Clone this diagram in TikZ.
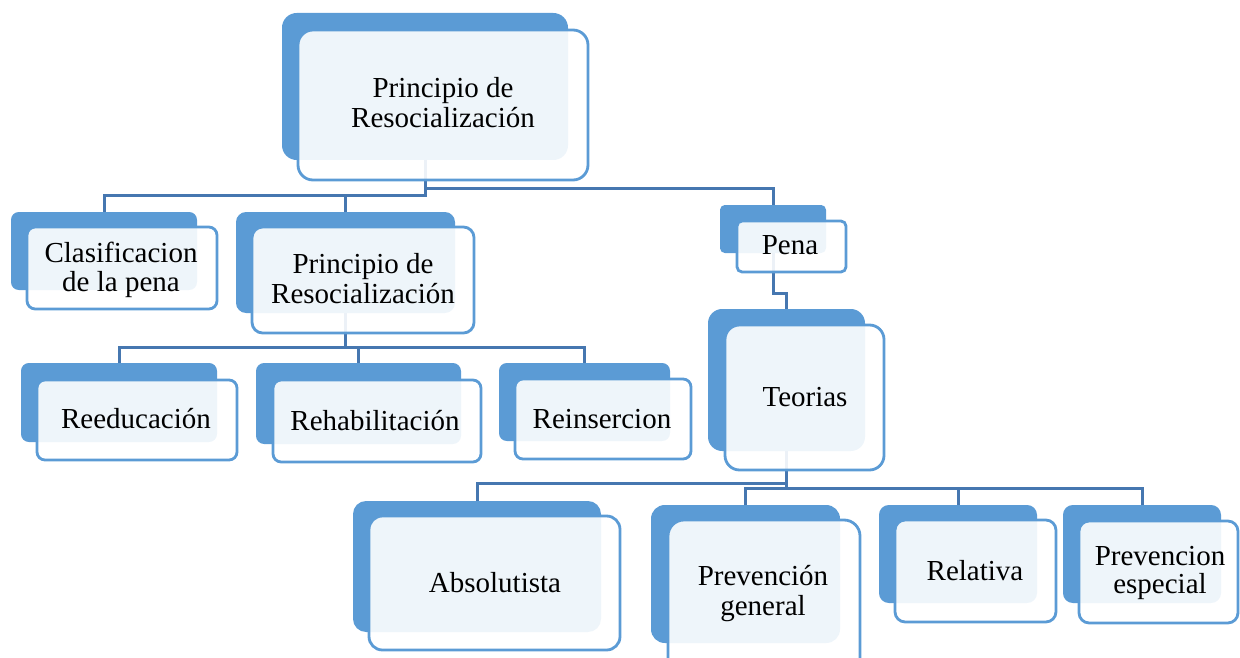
\documentclass[tikz,border=0pt]{standalone}
\usepackage{fontspec}
\setmainfont{Liberation Serif}
\definecolor{backblue}{HTML}{5B9BD5}
\definecolor{frontline}{HTML}{5B9BD5}
\definecolor{linkblue}{HTML}{4677B0}
\newcommand\backbox[5]{%
  \pgfmathsetmacro\rb{0.1*min(#4-#2,#5-#3)}%
  \node[backstyle, rounded corners=\rb pt, anchor=north west,
        minimum width={#4-#2}, minimum height={#5-#3}] (#1) at (#2,#3) {};}
\newcommand\frontbox[5]{%
  \pgfmathsetmacro\rb{0.1*min(#4-#2,#5-#3)}%
  \node[frontstyle, rounded corners=\rb pt, anchor=north west,
        minimum width={#4-#2}, minimum height={#5-#3}] (#1) at (#2,#3) {};}
\begin{document}
\begin{tikzpicture}[x=1pt,y=-1pt,
  backstyle/.style={fill=backblue, draw=none, inner sep=0pt, outer sep=0pt},
  frontstyle/.style={fill=white, fill opacity=0.9, draw=frontline, draw opacity=1,
                     line width=2.8pt, inner sep=0pt, outer sep=0pt},
  link/.style={draw=linkblue, line width=3pt},
  lbl/.style={anchor=base, inner sep=0pt, font=\fontsize{29}{30}\selectfont, text=black}]
\useasboundingbox (0,0) rectangle (1240,658);
\clip (0,0) rectangle (1240,658);
% back boxes
\backbox{topb}{282}{13}{568}{160}
\backbox{clasb}{11}{212}{197}{290}
\backbox{prinb}{236}{212}{455}{313}
\backbox{reedb}{21}{363}{217}{442}
\backbox{rehab}{256}{363}{461}{444}
\backbox{reinb}{499}{363}{670}{441}
\backbox{penab}{720}{205}{826}{253}
\backbox{teorb}{708}{309}{865}{451}
\backbox{absob}{353}{501}{601}{632}
\backbox{prevb}{651}{505}{840}{643}
\backbox{relab}{879}{505}{1037}{603}
\backbox{pespb}{1063}{505}{1221}{603}
% connectors
\draw[link] (topb.south) -- ++(0,28) -| (penab.north);
\draw[link] (topb.south) -- ++(0,35) -| (clasb.north);
\draw[link] (topb.south) -- ++(0,35) -| (prinb.north);
\draw[link] (prinb.south) -- ++(0,34) -| (reedb.north);
\draw[link] (prinb.south) -- ++(0,34) -| (rehab.north);
\draw[link] (prinb.south) -- ++(0,34) -| (reinb.north);
\draw[link] (penab.south) -- ++(0,40) -| (teorb.north);
\draw[link] (teorb.south) -- ++(0,32) -| (absob.north);
\draw[link] (teorb.south) -- ++(0,37) -| (prevb.north);
\draw[link] (teorb.south) -- ++(0,37) -| (relab.north);
\draw[link] (teorb.south) -- ++(0,37) -| (pespb.north);
% front boxes
\frontbox{topf}{298}{30}{588}{180}
\frontbox{clasf}{27}{227}{217}{309}
\frontbox{prinf}{252}{227}{474}{333}
\frontbox{reedf}{37}{380}{237}{460}
\frontbox{rehaf}{273}{380}{481}{462}
\frontbox{reinf}{515}{379}{691}{459}
\frontbox{penaf}{737}{221}{846}{272}
\frontbox{teorf}{725}{325}{884}{470}
\frontbox{absof}{369}{516}{620}{650}
\frontbox{prevf}{668}{520}{860}{680}
\frontbox{relaf}{895}{520}{1056}{622}
\frontbox{pespf}{1079}{521}{1238}{623}
% labels
\node[lbl] (t1a) at (443,98) {Principio de};
\node[lbl] (t1b) at (443,128) {Resocialización};
\node[lbl] (t2a) at (121,262) {Clasificacion};
\node[lbl] (t2b) at (121,291) {de la pena};
\node[lbl] (t3a) at (363,273) {Principio de};
\node[lbl] (t3b) at (363,303) {Resocialización};
\node[lbl] (t4) at (136,428) {Reeducación};
\node[lbl] (t5) at (375,430) {Rehabilitación};
\node[lbl] (t6) at (602,428) {Reinsercion};
\node[lbl] (t7) at (790,254) {Pena};
\node[lbl] (t8) at (805,406) {Teorias};
\node[lbl] (t9) at (495,592) {Absolutista};
\node[lbl] (t10a) at (763,585) {Prevención};
\node[lbl] (t10b) at (763,615) {general};
\node[lbl] (t11) at (975,580) {Relativa};
\node[lbl] (t12a) at (1160,565) {Prevencion};
\node[lbl] (t12b) at (1160,593) {especial};
\end{tikzpicture}
\end{document}
